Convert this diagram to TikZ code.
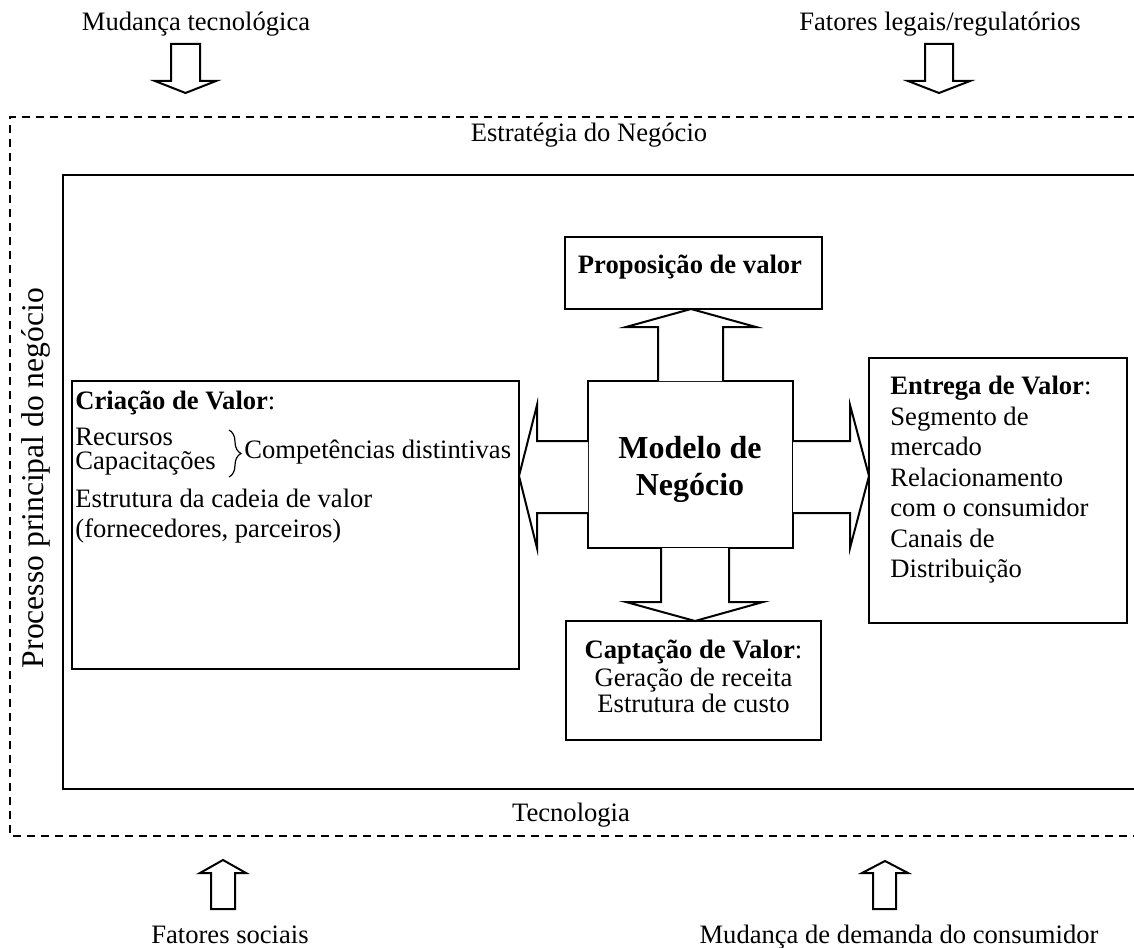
\documentclass[tikz,border=0pt]{standalone}
\usepackage{fontspec}
\setmainfont{Liberation Serif}
\usetikzlibrary{decorations.pathreplacing}
\begin{document}
\begin{tikzpicture}[x=0.5pt,y=-0.5pt,
  txt/.style={font=\fontsize{13.3}{15.3}\selectfont, inner sep=0, anchor=base},
  ltxt/.style={txt, anchor=base west},
  bigtxt/.style={font=\fontsize{16}{18}\selectfont\bfseries, inner sep=0, anchor=base},
  rottxt/.style={font=\fontsize{15.8}{18}\selectfont, inner sep=0, anchor=base, rotate=90},
  box/.style={draw, line width=1pt, inner sep=0, fill=white},
  blockarrow/.style={draw, line width=1pt, fill=white, line join=miter},
  frameline/.style={line width=1pt},
  dashframe/.style={line width=1pt, dash pattern=on 4pt off 3pt},
  bracestyle/.style={decorate, decoration={brace, amplitude=6pt}, line width=0.6pt}]
\useasboundingbox (0,0) rectangle (1134,947);
\clip (0,0) rectangle (1134,947);

% outer dashed frame and inner solid frame (open to the right)
\draw[dashframe] (1150,117) -- (10,117) -- (10,836) -- (1150,836);
\draw[frameline] (1150,175) -- (63,175) -- (63,789) -- (1150,789);

% boxes
\node[box, minimum width=128.5pt, minimum height=36pt] (prop) at (693.5,273) {};
\node[box, minimum width=102.5pt, minimum height=83.5pt] (modelo) at (690.5,464.5) {};
\node[box, minimum width=223.5pt, minimum height=144pt] (criacao) at (295.5,525) {};
\node[box, minimum width=129pt, minimum height=132.5pt] (entrega) at (998,490.5) {};
\node[box, minimum width=127.5pt, minimum height=59.5pt] (captacao) at (693.5,680.5) {};

% block arrows around the business model
\draw[blockarrow] (658,381) -- (658,327) -- (626,327) -- (691,309) -- (756,327) -- (723,327) -- (723,381);
\draw[blockarrow] (661,548) -- (661,602) -- (626,602) -- (695,621) -- (763,602) -- (729,602) -- (729,548);
\draw[blockarrow] (588,441) -- (537,441) -- (537,405) -- (519,476) -- (537,548) -- (537,513) -- (588,513);
\draw[blockarrow] (793,441) -- (850,441) -- (850,405) -- (869,476) -- (850,548) -- (850,513) -- (793,513);

% external force arrows
\draw[blockarrow] (171,44) -- (171,81) -- (155,81) -- (185.5,93) -- (216,81) -- (200,81) -- (200,44) -- cycle;
\draw[blockarrow] (925,44) -- (925,81) -- (908,81) -- (939,93) -- (970,81) -- (953,81) -- (953,44) -- cycle;
\draw[blockarrow] (211,909) -- (211,873) -- (200,873) -- (223,860) -- (246,873) -- (235,873) -- (235,909) -- cycle;
\draw[blockarrow] (873,909) -- (873,873) -- (862,873) -- (885,861) -- (908,873) -- (896,873) -- (896,909) -- cycle;

% outer labels
\node[txt] (lmud) at (196,31) {Mudança tecnológica};
\node[txt] (lleg) at (940,31) {Fatores legais/regulatórios};
\node[txt] (lest) at (589,141) {Estratégia do Negócio};
\node[txt] (ltec) at (571,821) {Tecnologia};
\node[txt] (lsoc) at (230,943) {Fatores sociais};
\node[txt] (ldem) at (899,943) {Mudança de demanda do consumidor};
\node[rottxt] (lproc) at (43,478) {Processo principal do negócio};

% texts in boxes
\node[txt] (tprop) at (690,273) {\bfseries Proposição de valor};
\node[bigtxt] (tmod1) at (690,458) {Modelo de};
\node[bigtxt] (tmod2) at (690,495) {Negócio};

\node[ltxt] (tc1) at (75,409) {\textbf{Criação de Valor}:};
\node[ltxt] (tc2) at (75,445) {Recursos};
\node[ltxt] (tc3) at (75,469) {Capacitações};
\node[ltxt] (tc4) at (75,507) {Estrutura da cadeia de valor};
\node[ltxt] (tc5) at (75,537) {(fornecedores, parceiros)};
\coordinate (bracetop) at (229,430);
\coordinate (bracebot) at (229,477);
\draw[bracestyle] (bracetop) -- (bracebot);
\node[ltxt] (tcomp) at (244,458) {Competências distintivas};

\node[ltxt] (te1) at (890,394) {\textbf{Entrega de Valor}:};
\node[ltxt] (te2) at (890,425) {Segmento de};
\node[ltxt] (te3) at (890,455) {mercado};
\node[ltxt] (te4) at (890,486) {Relacionamento};
\node[ltxt] (te5) at (890,516) {com o consumidor};
\node[ltxt] (te6) at (890,547) {Canais de};
\node[ltxt] (te7) at (890,577) {Distribuição};

\node[txt] (tk1) at (693.5,658) {\textbf{Captação de Valor}:};
\node[txt] (tk2) at (693.5,686) {Geração de receita};
\node[txt] (tk3) at (693.5,712) {Estrutura de custo};
\end{tikzpicture}
\end{document}
